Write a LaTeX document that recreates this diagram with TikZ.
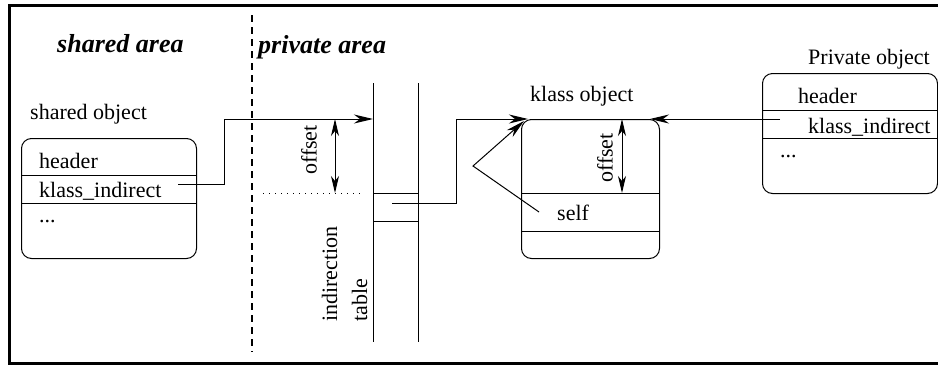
\documentclass[tikz,border=0pt]{standalone}
\usepackage{fontspec}
\setmainfont{Liberation Serif}
\usetikzlibrary{arrows.meta}
\begin{document}
\begin{tikzpicture}[x=1pt,y=-1pt,
  lbl/.style={inner sep=0pt, anchor=base west, font=\fontsize{22}{26}\selectfont},
  area/.style={inner sep=0pt, anchor=base west, font=\fontsize{26}{30}\selectfont\bfseries\itshape},
  objbox/.style={draw, line width=1pt, rounded corners=10pt, inner sep=0pt, anchor=north west},
  field/.style={line width=1pt},
  tip/.style={Stealth[length=19pt,width=9pt,inset=6pt]},
  link/.style={line width=1pt, -{Stealth[length=19pt,width=9pt,inset=6pt]}},
  span/.style={line width=1pt, {Stealth[length=17pt,width=8pt,inset=5pt]}-{Stealth[length=17pt,width=8pt,inset=5pt]}},
]
\useasboundingbox (0,0) rectangle (938,365);

% outer frame and the border between the two areas
\draw[line width=3pt] (938,5) -- (9,5) -- (9,363) -- (938,363);
\draw[line width=2pt, dash pattern=on 7pt off 5pt] (252,15) -- (252,352);

\node[area] (sharedlbl) at (57,52) {shared area};
\node[area] (privlbl) at (258,53) {private area};

% shared object
\node[lbl] (sobjlbl) at (30,119) {shared object};
\node[objbox, minimum width=175pt, minimum height=120pt] (sobj) at (21,138) {};
\draw[field] (21,175) -- (196,175);
\draw[field] (21,203) -- (196,203);
\node[lbl] (shdr) at (39,168) {header};
\node[lbl] (skind) at (39,197) {klass\_indirect};
\node[lbl] (sdots) at (39,222) {...};

% indirection table
\draw[field] (373,83) -- (373,342);
\draw[field] (418,83) -- (418,342);
\node[draw, line width=1pt, inner sep=0pt, minimum width=45pt, minimum height=28pt, anchor=north west] (slot) at (373,193) {};
\node[lbl, rotate=90] (tblA) at (337,322) {indirection};
\node[lbl, rotate=90] (tblB) at (367,322) {table};

\coordinate (s1) at (178,184);
\coordinate (t1) at (373,119);
\draw[link] (s1) -- ++(46,0) |- (t1);

\draw[line width=1pt, dash pattern=on 1pt off 5pt] (263,193) -- (362,193);
\coordinate (o1a) at (335,119);
\coordinate (o1b) at (335,193);
\draw[span] (o1a) -- (o1b);
\node[lbl, rotate=90, anchor=center] (off1) at (309,150) {offset};

% klass object
\node[lbl] (kobjlbl) at (530,101) {klass object};
\node[objbox, minimum width=138pt, minimum height=139pt] (kobj) at (521,119) {};
\draw[field] (521,193) -- (659,193);
\draw[field] (521,231) -- (659,231);
\node[lbl] (kself) at (557,220) {self};
\coordinate (o2a) at (622,119);
\coordinate (o2b) at (622,193);
\draw[span] (o2a) -- (o2b);
\node[lbl, rotate=90, anchor=center] (off2) at (605,158) {offset};

\coordinate (s2) at (392,203);
\coordinate (t2) at (528,119);
\draw[link] (s2) -- ++(64,0) |- (t2);

\coordinate (selfp) at (539,212);
\coordinate (bend) at (473,166);
\coordinate (kt) at (524,121);
\draw[link] (selfp) -- (bend) -- (kt);

% private object
\node[lbl] (pobjlbl) at (808,64) {Private object};
\node[objbox, minimum width=175pt, minimum height=120pt] (pobj) at (762,73) {};
\draw[field] (762,110) -- (937,110);
\draw[field] (762,138) -- (937,138);
\node[lbl] (phdr) at (798,103) {header};
\node[lbl] (pkind) at (808,133) {klass\_indirect};
\node[lbl] (pdots) at (780,157) {...};

\coordinate (s3) at (780,119);
\coordinate (t3) at (650,119);
\draw[link] (s3) -- (t3);
\end{tikzpicture}
\end{document}
